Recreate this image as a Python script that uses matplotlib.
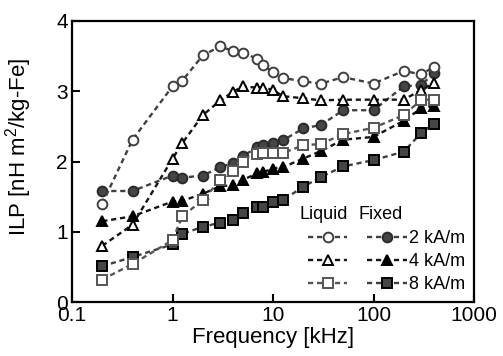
import matplotlib
matplotlib.use("Agg")
import matplotlib.pyplot as plt
from matplotlib.ticker import FixedLocator, FixedFormatter

plt.rcParams["font.family"] = ["Liberation Sans", "DejaVu Sans"]
plt.rcParams["mathtext.default"] = "regular"

# Frequency points [kHz]
freq = [0.2, 0.4, 1, 1.25, 2, 3, 4, 5, 7, 8, 10, 12.5, 20, 30, 50, 100, 200, 300, 400]

# ILP values [nH m^2/kg-Fe]
liquid_2k = [1.40, 2.31, 3.07, 3.15, 3.51, 3.64, 3.57, 3.55, 3.46, 3.38,
             3.27, 3.19, 3.14, 3.11, 3.20, 3.11, 3.29, 3.24, 3.35]
liquid_4k = [0.80, 1.10, 2.04, 2.26, 2.66, 2.87, 2.99, 3.07, 3.05, 3.05,
             3.02, 2.93, 2.90, 2.87, 2.88, 2.88, 2.88, 3.02, 3.12]
liquid_8k = [0.32, 0.54, 0.88, 1.22, 1.45, 1.74, 1.87, 1.99, 2.10, 2.12,
             2.12, 2.12, 2.23, 2.25, 2.39, 2.48, 2.66, 2.88, 2.88]
fixed_2k = [1.58, 1.58, 1.80, 1.77, 1.80, 1.92, 1.98, 2.08, 2.20, 2.23,
            2.26, 2.30, 2.47, 2.52, 2.73, 2.73, 3.07, 3.09, 3.26]
fixed_4k = [1.15, 1.22, 1.43, 1.44, 1.54, 1.65, 1.66, 1.74, 1.83, 1.85,
            1.90, 1.92, 2.04, 2.15, 2.31, 2.35, 2.58, 2.76, 2.79]
fixed_8k = [0.51, 0.64, 0.82, 0.97, 1.07, 1.13, 1.17, 1.27, 1.35, 1.35,
            1.43, 1.45, 1.64, 1.78, 1.93, 2.02, 2.14, 2.41, 2.54]

field_labels = ["2 kA/m", "4 kA/m", "8 kA/m"]
x_ticks = [0.1, 1, 10, 100, 1000]
x_ticklabels = ["0.1", "1", "10", "100", "1000"]
y_ticks = [0, 1, 2, 3, 4]

fig = plt.figure(figsize=(5.03, 3.56), dpi=100)
ax = fig.add_axes([72 / 503, 54 / 356, 402 / 503, 281 / 356])

line_kw = dict(linestyle=(0, (2.2, 1.6)), linewidth=1.7, markersize=7, markeredgewidth=1.4)

# Fixed samples (filled markers)
h_f2, = ax.plot(freq, fixed_2k, marker="o", color="#404040", mfc="#454545", mec="#2a2a2a", **line_kw)
h_f4, = ax.plot(freq, fixed_4k, marker="^", color="#151515", mfc="#000000", mec="#000000", **line_kw)
h_f8, = ax.plot(freq, fixed_8k, marker="s", color="#404040", mfc="#454545", mec="#000000", **line_kw)

# Liquid samples (open markers)
h_l2, = ax.plot(freq, liquid_2k, marker="o", color="#404040", mfc="white", mec="#404040", **line_kw)
h_l4, = ax.plot(freq, liquid_4k, marker="^", color="#151515", mfc="white", mec="#000000", **line_kw)
h_l8, = ax.plot(freq, liquid_8k, marker="s", color="#555555", mfc="white", mec="#555555", **line_kw)

ax.set_xscale("log")
ax.set_xlim(0.1, 1000)
ax.set_ylim(0, 4)
ax.xaxis.set_major_locator(FixedLocator(x_ticks))
ax.xaxis.set_major_formatter(FixedFormatter(x_ticklabels))
ax.xaxis.set_minor_locator(FixedLocator([]))
ax.set_yticks(y_ticks)

for sp in ax.spines.values():
    sp.set_linewidth(1.6)
ax.tick_params(direction="in", length=6, width=1.5, labelsize=15, pad=3,
               top=False, right=False)

ax.set_xlabel("Frequency [kHz]", fontsize=16, labelpad=1)
ax.set_ylabel("ILP [nH m$^2$/kg-Fe]", fontsize=16)
ax.yaxis.set_label_coords(-0.095, 0.55)

handles = [h_l2, h_l4, h_l8, h_f2, h_f4, h_f8]
labels = ["", "", ""] + field_labels
ax.legend(handles, labels, ncol=2, loc="lower right", bbox_to_anchor=(1.0, 0.0),
          frameon=False, fontsize=13, handlelength=2.2, handletextpad=0.1,
          columnspacing=1.0, labelspacing=0.33, borderaxespad=0.1, numpoints=1)
ax.text(0.567, 0.31, "Liquid", transform=ax.transAxes, fontsize=13, va="center", ha="left")
ax.text(0.712, 0.31, "Fixed", transform=ax.transAxes, fontsize=13, va="center", ha="left")

plt.savefig("out.png", dpi=100)
plt.close()
